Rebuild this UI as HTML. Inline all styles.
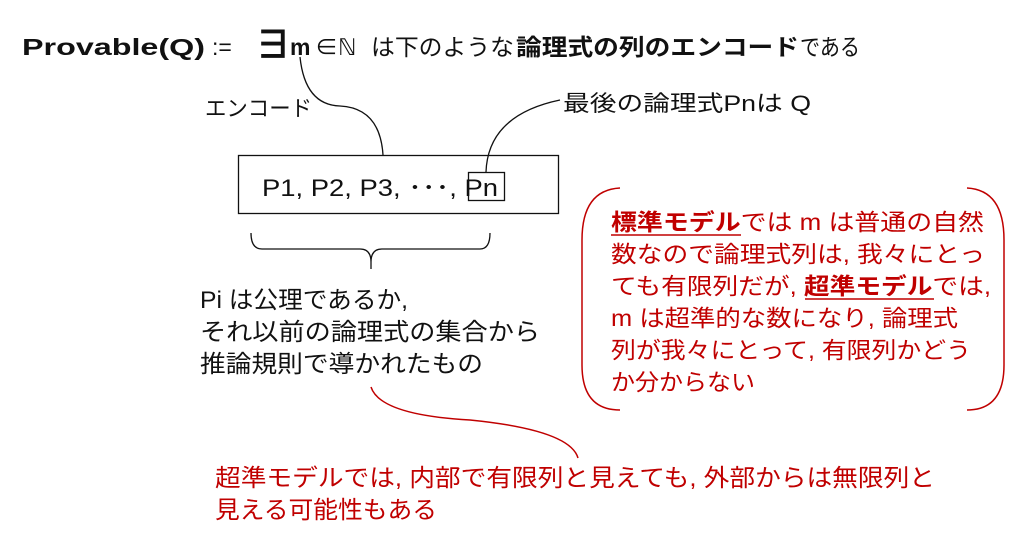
<!DOCTYPE html>
<html><head><meta charset="utf-8"><style>
html,body{margin:0;padding:0;background:#fff;width:1018px;height:536px;overflow:hidden}
svg text{font-family:"Liberation Sans","Noto Sans CJK JP",sans-serif}
</style></head><body>
<svg width="1018" height="536" xmlns="http://www.w3.org/2000/svg">
<g font-size="24" fill="#111">
<text x="22" y="55" font-weight="bold" font-size="23" textLength="183" lengthAdjust="spacingAndGlyphs">Provable(Q)</text>
<text x="212" y="55" font-size="23">:=</text>
<text x="254" y="58" font-size="38" font-weight="bold">∃</text>
<text x="290" y="55" font-size="23" font-weight="bold">m</text>
<text x="315" y="55" font-size="23">∈ℕ</text>
<text x="371" y="55" font-size="23" textLength="143" lengthAdjust="spacingAndGlyphs">は下のような</text>
<text x="516" y="55" font-size="23" font-weight="bold" textLength="283" lengthAdjust="spacingAndGlyphs">論理式の列のエンコード</text>
<text x="800" y="55" font-size="23" textLength="60" lengthAdjust="spacingAndGlyphs">である</text>
<text x="205" y="116" font-size="22" textLength="107" lengthAdjust="spacingAndGlyphs">エンコード</text>
<text x="563" y="111" font-size="22" textLength="248" lengthAdjust="spacingAndGlyphs">最後の論理式Pnは Q</text>
<text x="262" y="196" font-size="24" textLength="236" lengthAdjust="spacingAndGlyphs">P1, P2, P3, ･･･, Pn</text>
<text x="200" y="308" font-size="24" textLength="208" lengthAdjust="spacingAndGlyphs">Pi は公理であるか,</text>
<text x="200" y="340" font-size="24" textLength="340" lengthAdjust="spacingAndGlyphs">それ以前の論理式の集合から</text>
<text x="200" y="372" font-size="24" textLength="283" lengthAdjust="spacingAndGlyphs">推論規則で導かれたもの</text>
</g>
<g font-size="23" fill="#c00000">
<text x="611" y="230" textLength="373" lengthAdjust="spacingAndGlyphs"><tspan font-weight="bold">標準モデル</tspan>では m は普通の自然</text>
<text x="611" y="262" textLength="374" lengthAdjust="spacingAndGlyphs">数なので論理式列は, 我々にとっ</text>
<text x="611" y="294" textLength="380" lengthAdjust="spacingAndGlyphs">ても有限列だが, <tspan font-weight="bold">超準モデル</tspan>では,</text>
<text x="611" y="326" textLength="347" lengthAdjust="spacingAndGlyphs">m は超準的な数になり, 論理式</text>
<text x="611" y="358" textLength="360" lengthAdjust="spacingAndGlyphs">列が我々にとって, 有限列かどう</text>
<text x="611" y="390" textLength="144" lengthAdjust="spacingAndGlyphs">か分からない</text>
<text x="215" y="486" font-size="24" textLength="720" lengthAdjust="spacingAndGlyphs">超準モデルでは, 内部で有限列と見えても, 外部からは無限列と</text>
<text x="215" y="518" font-size="24" textLength="222" lengthAdjust="spacingAndGlyphs">見える可能性もある</text>
</g>
<g stroke="#c00000" stroke-width="1.5" fill="none">
<line x1="611" y1="235" x2="741" y2="235"/>
<line x1="805" y1="299" x2="934" y2="299"/>
<path d="M620 188 Q582 190 582 240 L582 365 Q582 410 620 410"/>
<path d="M967 188 Q1004 190 1004 240 L1004 365 Q1004 410 967 410"/>
<path d="M371 387 Q380 415 470 420 Q570 430 578 458"/>
</g>
<g stroke="#111" stroke-width="1.3" fill="none">
<rect x="238.5" y="155.5" width="320" height="58"/>
<rect x="468.5" y="172.5" width="36" height="28"/>
<path d="M300 57 Q305 105 340 106 Q380 108 383 155"/>
<path d="M486 172 Q488 115 560 100"/>
<path d="M251 233 Q251 249 262 249 L360 249 Q371 249 371 262 L371 269 M371 262 Q371 249 382 249 L480 249 Q490 249 490 233"/>
</g>
</svg>
</body></html>
